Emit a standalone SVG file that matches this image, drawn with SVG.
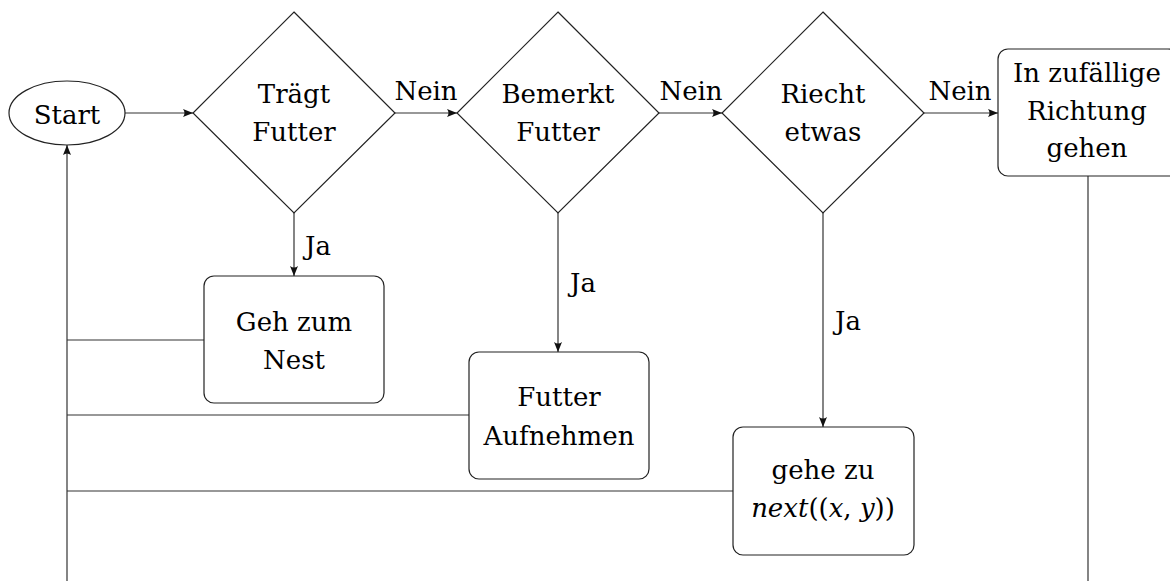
<svg xmlns="http://www.w3.org/2000/svg" width="1170" height="581" viewBox="0 0 1170 581">
  <style>
    .shape { fill: #fff; stroke: #222; stroke-width: 1.2; }
    .edge { fill: none; stroke: #333; stroke-width: 1.2; }
    .lbl { font-family: "DejaVu Serif", "Noto Serif", "Liberation Serif", serif; font-size: 26px; fill: #000; }
    .c { text-anchor: middle; }
    .it { font-style: italic; }
  </style>
  <defs>
    <marker id="arrow" viewBox="0 0 10 8" refX="10" refY="4" markerWidth="10" markerHeight="8" markerUnits="userSpaceOnUse" orient="auto">
      <path d="M0,0 Q3,4 0,8 L10,4 Z" fill="#111"/>
    </marker>
  </defs>

  <!-- connectors -->
  <g id="connectors">
    <line class="edge" x1="125" y1="113" x2="193" y2="113" marker-end="url(#arrow)"/>
    <line class="edge" x1="395" y1="113" x2="457" y2="113" marker-end="url(#arrow)"/>
    <line class="edge" x1="659" y1="113" x2="722" y2="113" marker-end="url(#arrow)"/>
    <line class="edge" x1="924" y1="113" x2="998" y2="113" marker-end="url(#arrow)"/>
    <line class="edge" x1="294" y1="213" x2="294" y2="276" marker-end="url(#arrow)"/>
    <line class="edge" x1="558" y1="213" x2="558" y2="352" marker-end="url(#arrow)"/>
    <line class="edge" x1="823" y1="213" x2="823" y2="427" marker-end="url(#arrow)"/>
    <line class="edge" x1="204" y1="340" x2="67" y2="340"/>
    <line class="edge" x1="469" y1="415" x2="67" y2="415"/>
    <line class="edge" x1="733" y1="491" x2="67" y2="491"/>
    <line class="edge" x1="1088" y1="176" x2="1088" y2="581"/>
    <line class="edge" x1="67" y1="581" x2="67" y2="145" marker-end="url(#arrow)"/>
    <text class="lbl c" x="426" y="100">Nein</text>
    <text class="lbl c" x="691" y="100">Nein</text>
    <text class="lbl c" x="960" y="100">Nein</text>
    <text class="lbl" x="305" y="255">Ja</text>
    <text class="lbl" x="570" y="292">Ja</text>
    <text class="lbl" x="835" y="330">Ja</text>
  </g>

  <g id="start">
    <ellipse class="shape" cx="67" cy="113" rx="58" ry="32"/>
    <text class="lbl c" x="67" y="124">Start</text>
  </g>

  <g id="traegt-futter">
    <polygon class="shape" points="294,12 395,113 294,213 193,113"/>
    <text class="lbl c" x="294" y="103">Trägt</text>
    <text class="lbl c" x="294" y="141">Futter</text>
  </g>

  <g id="bemerkt-futter">
    <polygon class="shape" points="558,12 659,113 558,213 457,113"/>
    <text class="lbl c" x="558" y="103">Bemerkt</text>
    <text class="lbl c" x="558" y="141">Futter</text>
  </g>

  <g id="riecht-etwas">
    <polygon class="shape" points="823,12 924,113 823,213 722,113"/>
    <text class="lbl c" x="823" y="103">Riecht</text>
    <text class="lbl c" x="823" y="141">etwas</text>
  </g>

  <g id="zufaellige-richtung">
    <rect class="shape" x="998" y="49" width="180" height="127" rx="10"/>
    <text class="lbl c" x="1087" y="82">In zufällige</text>
    <text class="lbl c" x="1087" y="120">Richtung</text>
    <text class="lbl c" x="1087" y="157">gehen</text>
  </g>

  <g id="geh-zum-nest">
    <rect class="shape" x="204" y="276" width="180" height="127" rx="10"/>
    <text class="lbl c" x="294" y="331">Geh zum</text>
    <text class="lbl c" x="294" y="369">Nest</text>
  </g>

  <g id="futter-aufnehmen">
    <rect class="shape" x="469" y="352" width="180" height="127" rx="10"/>
    <text class="lbl c" x="559" y="406">Futter</text>
    <text class="lbl c" x="559" y="445">Aufnehmen</text>
  </g>

  <g id="gehe-zu-next">
    <rect class="shape" x="733" y="427" width="181" height="128" rx="10"/>
    <text class="lbl c" x="823" y="479">gehe zu</text>
    <text class="lbl c" x="823" y="517"><tspan class="it">next</tspan>((<tspan class="it">x</tspan>, <tspan class="it">y</tspan>))</text>
  </g>
</svg>
